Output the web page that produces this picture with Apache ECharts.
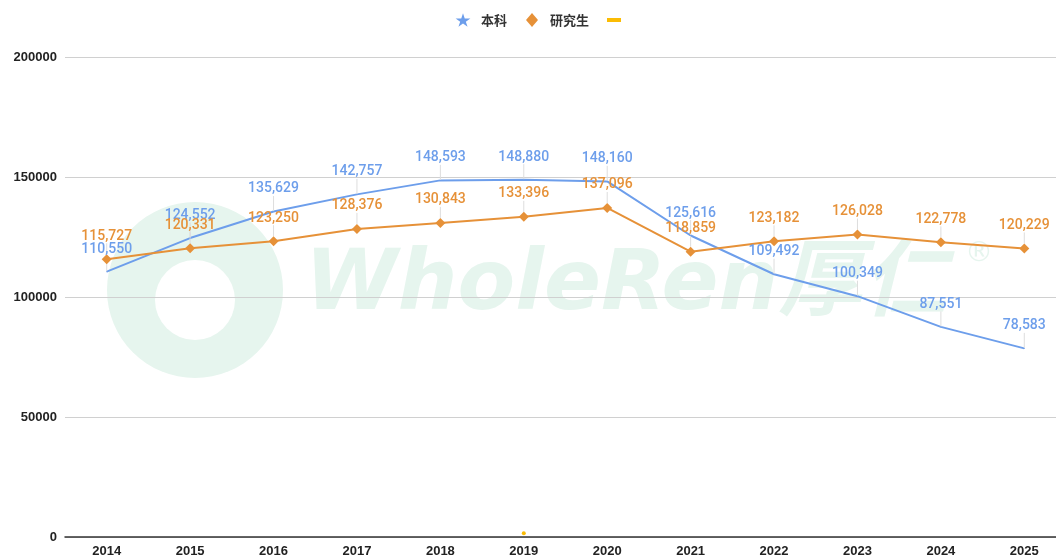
<!DOCTYPE html>
<html><head><meta charset="utf-8">
<script src="https://cdn.jsdelivr.net/npm/echarts@6/dist/echarts.min.js"></script>
<style>html,body{margin:0;padding:0;background:#fff;overflow:hidden}#c{width:1056px;height:557px}</style>
</head><body><div id="c"></div>
<script>
var years = ['2014','2015','2016','2017','2018','2019','2020','2021','2022','2023','2024','2025'];
var undergrad = [110550,124552,135629,142757,148593,148880,148160,125616,109492,100349,87551,78583];
var graduate = [115727,120331,123250,128376,130843,133396,137096,118859,123182,126028,122778,120229];
var other = [null,null,null,null,null,1600,null,null,null,null,null,null];
var yTicks = [0,50000,100000,150000,200000];

var BLUE = '#6d9eeb', ORANGE = '#e69138', YELLOW = '#fbbc04';
var star = 'path://M-38,0M138,93M50,0L61.8,35.5L100,35.5L69.1,57.5L80.9,93L50,71L19.1,93L30.9,57.5L0,35.5L38.2,35.5Z';
var diamond = 'path://M-4,0M22,14M9,0L15,7L9,14L3,7Z';
var dash = 'path://M0,0M26,14M6,5L20,5L20,9L6,9Z';
var chart = echarts.init(document.getElementById('c'));
function fmt(p){ return p.value == null ? '' : p.value.toLocaleString('en-US'); }
chart.setOption({
  animation:false,
  textStyle:{fontFamily:'Roboto, "Noto Sans CJK SC", sans-serif'},
  graphic:[
    {type:'circle', z:-10, shape:{cx:195, cy:290, r:88}, style:{fill:'#e6f5ee'}},
    {type:'circle', z:-9, shape:{cx:195, cy:300, r:40}, style:{fill:'#ffffff'}},
    {type:'text', z:-10, left:305, top:245, style:{text:'WholeRen厚仁', font:'italic bold 84px "DejaVu Sans", "Noto Sans CJK SC", sans-serif', fill:'#e6f5ee'}},
    {type:'text', z:-10, left:965, top:240, style:{text:'®', font:'28px "DejaVu Sans"', fill:'#e6f5ee'}}
  ],
  legend:{
    top:8, left:445, itemGap:12, itemWidth:26, itemHeight:14,
    textStyle:{fontSize:13, fontWeight:'bold', color:'#333', fontFamily:'"Noto Sans CJK SC", sans-serif'},
    data:[{name:'本科', icon:star},{name:'研究生', icon:diamond},{name:' ', icon:dash}]
  },
  grid:{left:65, width:1001, top:57, bottom:20, containLabel:false, outerBoundsMode:'none'},
  xAxis:{
    type:'category', data:years, boundaryGap:true,
    axisLine:{lineStyle:{color:'#333', width:1.5}},
    axisTick:{show:false},
    axisLabel:{color:'#222', fontWeight:'bold', fontSize:13, margin:8, fontFamily:'Arial, "Liberation Sans", sans-serif'}
  },
  yAxis:{
    type:'value', min:yTicks[0], max:yTicks[yTicks.length-1], interval:50000,
    axisLine:{show:false}, axisTick:{show:false},
    axisLabel:{color:'#222', fontWeight:'bold', fontSize:13, margin:8, formatter:function(v){return String(v);}, fontFamily:'Arial, "Liberation Sans", sans-serif'},
    splitLine:{lineStyle:{color:'#d0d0d0'}}
  },
  series:[
    {name:'本科', type:'line', data:undergrad, symbol:'circle', symbolSize:1, showSymbol:true,
     lineStyle:{color:BLUE, width:2}, itemStyle:{color:BLUE},
     label:{show:true, position:'top', distance:4, formatter:fmt, color:BLUE, fontSize:14, fontWeight:500},
     labelLayout:{dy:-11}, labelLine:{show:true, lineStyle:{color:'#ddd', width:1}}},
    {name:'研究生', type:'line', data:graduate, symbol:'diamond', symbolSize:10,
     lineStyle:{color:ORANGE, width:2}, itemStyle:{color:ORANGE},
     label:{show:true, position:'top', distance:4, formatter:fmt, color:ORANGE, fontSize:14, fontWeight:500},
     labelLayout:{dy:-7}, labelLine:{show:true, lineStyle:{color:'#ddd', width:1}}},
    {name:' ', type:'line', data:other, symbol:'circle', symbolSize:4,
     lineStyle:{color:YELLOW, width:2}, itemStyle:{color:YELLOW}}
  ]
});
</script></body></html>
